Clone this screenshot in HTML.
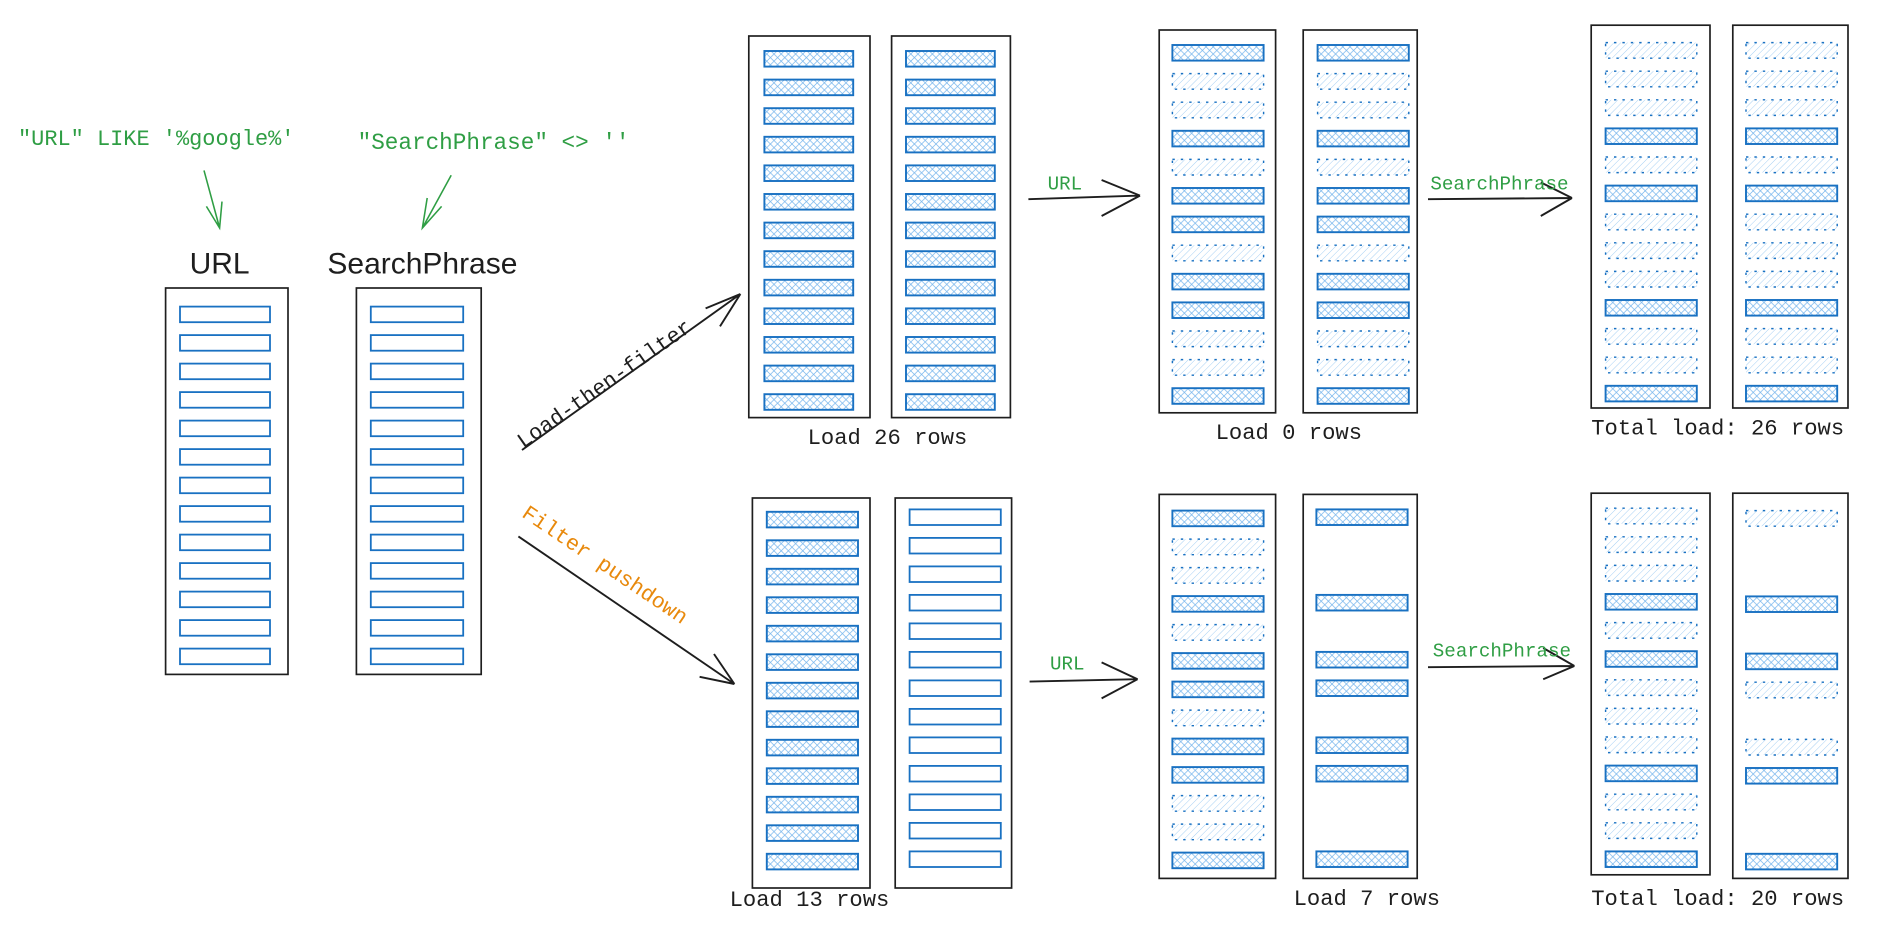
<!DOCTYPE html>
<html><head><meta charset="utf-8"><style>
html,body{margin:0;padding:0;background:#fff;width:1880px;height:936px;overflow:hidden}
svg{display:block}
.m{font-family:"Liberation Mono",monospace}
.s{font-family:"Liberation Sans",sans-serif}
</style></head><body>
<svg id="sv" width="1880" height="936" viewBox="0 0 1566.67 780" xmlns="http://www.w3.org/2000/svg">
<defs>
<pattern id="xh" width="6" height="6" patternUnits="userSpaceOnUse">
<path d="M0,0 L6,6 M6,0 L0,6" stroke="#74b4ec" stroke-width="0.6"/>
</pattern>
<pattern id="dh" width="4" height="4" patternUnits="userSpaceOnUse" patternTransform="rotate(45)">
<line x1="0" y1="0" x2="0" y2="4" stroke="#a5cff3" stroke-width="0.8"/>
</pattern>
</defs>
<g fill="none" stroke="#1e1e1e" stroke-width="1.4" id="frames"></g>
<g id="rows"></g>
<text class="m" x="15" y="121" font-size="18.3" fill="#2f9e44">"URL" LIKE '%google%'</text>
<text class="m" x="298" y="124" font-size="18.9" fill="#2f9e44">"SearchPhrase" &lt;&gt; ''</text>
<g stroke="#2f9e44" stroke-width="1.3" fill="none">
<path d="M170,142 L183,190 M172,172 L183,190 L185,168"/>
<path d="M376,146 L352,190 M356,165 L352,190 L368,172"/>
</g>
<text class="s" x="183" y="228" font-size="25" fill="#1e1e1e" text-anchor="middle">URL</text>
<text class="s" x="352" y="228" font-size="25" fill="#1e1e1e" text-anchor="middle">SearchPhrase</text>
<g stroke="#1e1e1e" stroke-width="1.6" fill="none">
<path d="M435,375 L617,245 M588,257 L617,245 M600,272 L617,245"/>
<path d="M432,447 L612,570 M595,545 L612,570 M583,564 L612,570"/>
<path d="M857,166 L950,163 M918,150 L950,163 M918,180 L950,163"/>
<path d="M1190,166 L1310,165 M1284,152 L1310,165 M1284,180 L1310,165"/>
<path d="M858,568 L948,566 M918,552 L948,566 M918,582 L948,566"/>
<path d="M1190,556 L1312,555 M1286,540 L1312,555 M1286,566 L1312,555"/>
</g>
<text class="m" x="0" y="0" font-size="18" fill="#1e1e1e" transform="translate(436,374) rotate(-35)">Load-then-filter</text>
<text class="m" x="0" y="0" font-size="18" fill="#e8890c" transform="translate(434,430) rotate(34)">Filter pushdown</text>
<text class="m" x="873" y="158" font-size="16" fill="#2f9e44">URL</text>
<text class="m" x="1192" y="158" font-size="16" fill="#2f9e44">SearchPhrase</text>
<text class="m" x="875" y="558" font-size="16" fill="#2f9e44">URL</text>
<text class="m" x="1194" y="547" font-size="16" fill="#2f9e44">SearchPhrase</text>
<text class="m" x="673" y="370" font-size="18.5" fill="#1e1e1e">Load 26 rows</text>
<text class="m" x="1013" y="366" font-size="18.5" fill="#1e1e1e">Load 0 rows</text>
<text class="m" x="1326" y="362" font-size="18.5" fill="#1e1e1e">Total load: 26 rows</text>
<text class="m" x="608" y="755" font-size="18.5" fill="#1e1e1e">Load 13 rows</text>
<text class="m" x="1078" y="754" font-size="18.5" fill="#1e1e1e">Load 7 rows</text>
<text class="m" x="1326" y="754" font-size="18.5" fill="#1e1e1e">Total load: 20 rows</text>
</svg>
<script>
(function(){
var NS="http://www.w3.org/2000/svg";
var fr=document.getElementById('frames'),rw=document.getElementById('rows');
function el(p,t,a){var e=document.createElementNS(NS,t);for(var k in a)e.setAttribute(k,a[k]);p.appendChild(e);return e;}
function col(fx,fy,fw,fh,rx,rwid,y0,y1,pat){
 el(fr,'rect',{x:fx,y:fy,width:fw,height:fh});
 var n=pat.length,st=(y1-y0)/(n-1);
 for(var i=0;i<n;i++){var c=pat[i],y=y0+i*st-6.5;
  if(c=='-')continue;
  if(c=='P')el(rw,'rect',{x:rx,y:y,width:rwid,height:13,fill:'#fff',stroke:'#1971c2','stroke-width':1.5});
  if(c=='S')el(rw,'rect',{x:rx,y:y,width:rwid,height:13,fill:'url(#xh)',stroke:'#1971c2','stroke-width':1.6});
  if(c=='D')el(rw,'rect',{x:rx,y:y,width:rwid,height:13,fill:'url(#dh)',stroke:'#1971c2','stroke-width':1.2,'stroke-dasharray':'2 5'});
 }
}
var P='PPPPPPPPPPPPP',S='SSSSSSSSSSSSS',U='SDDSDSSDSSDDS',F='DDDSDSDDDSDDS';
col(138,240,102,322,150,75,262,547,P);
col(297,240,104,322,309,77,262,547,P);
col(624,30,101,318,637,74,49,335,S);
col(743,30,99,318,755,74,49,335,S);
col(966,25,97,319,977,76,44,330,U);
col(1086,25,95,319,1098,76,44,330,U);
col(1326,21,99,319,1338,76,42,328,F);
col(1444,21,96,319,1455,76,42,328,F);
col(627,415,98,325,639,76,433,718,S);
col(746,415,97,325,758,76,431,716,P);
col(966,412,97,320,977,76,432,717,U);
col(1086,412,95,320,1097,76,431,716,'S--S-SS-SS--S');
col(1326,411,99,318,1338,76,430,716,F);
col(1444,411,96,321,1455,76,432,718,'D--S-SD-DS--S');
})();
</script>
</body></html>
